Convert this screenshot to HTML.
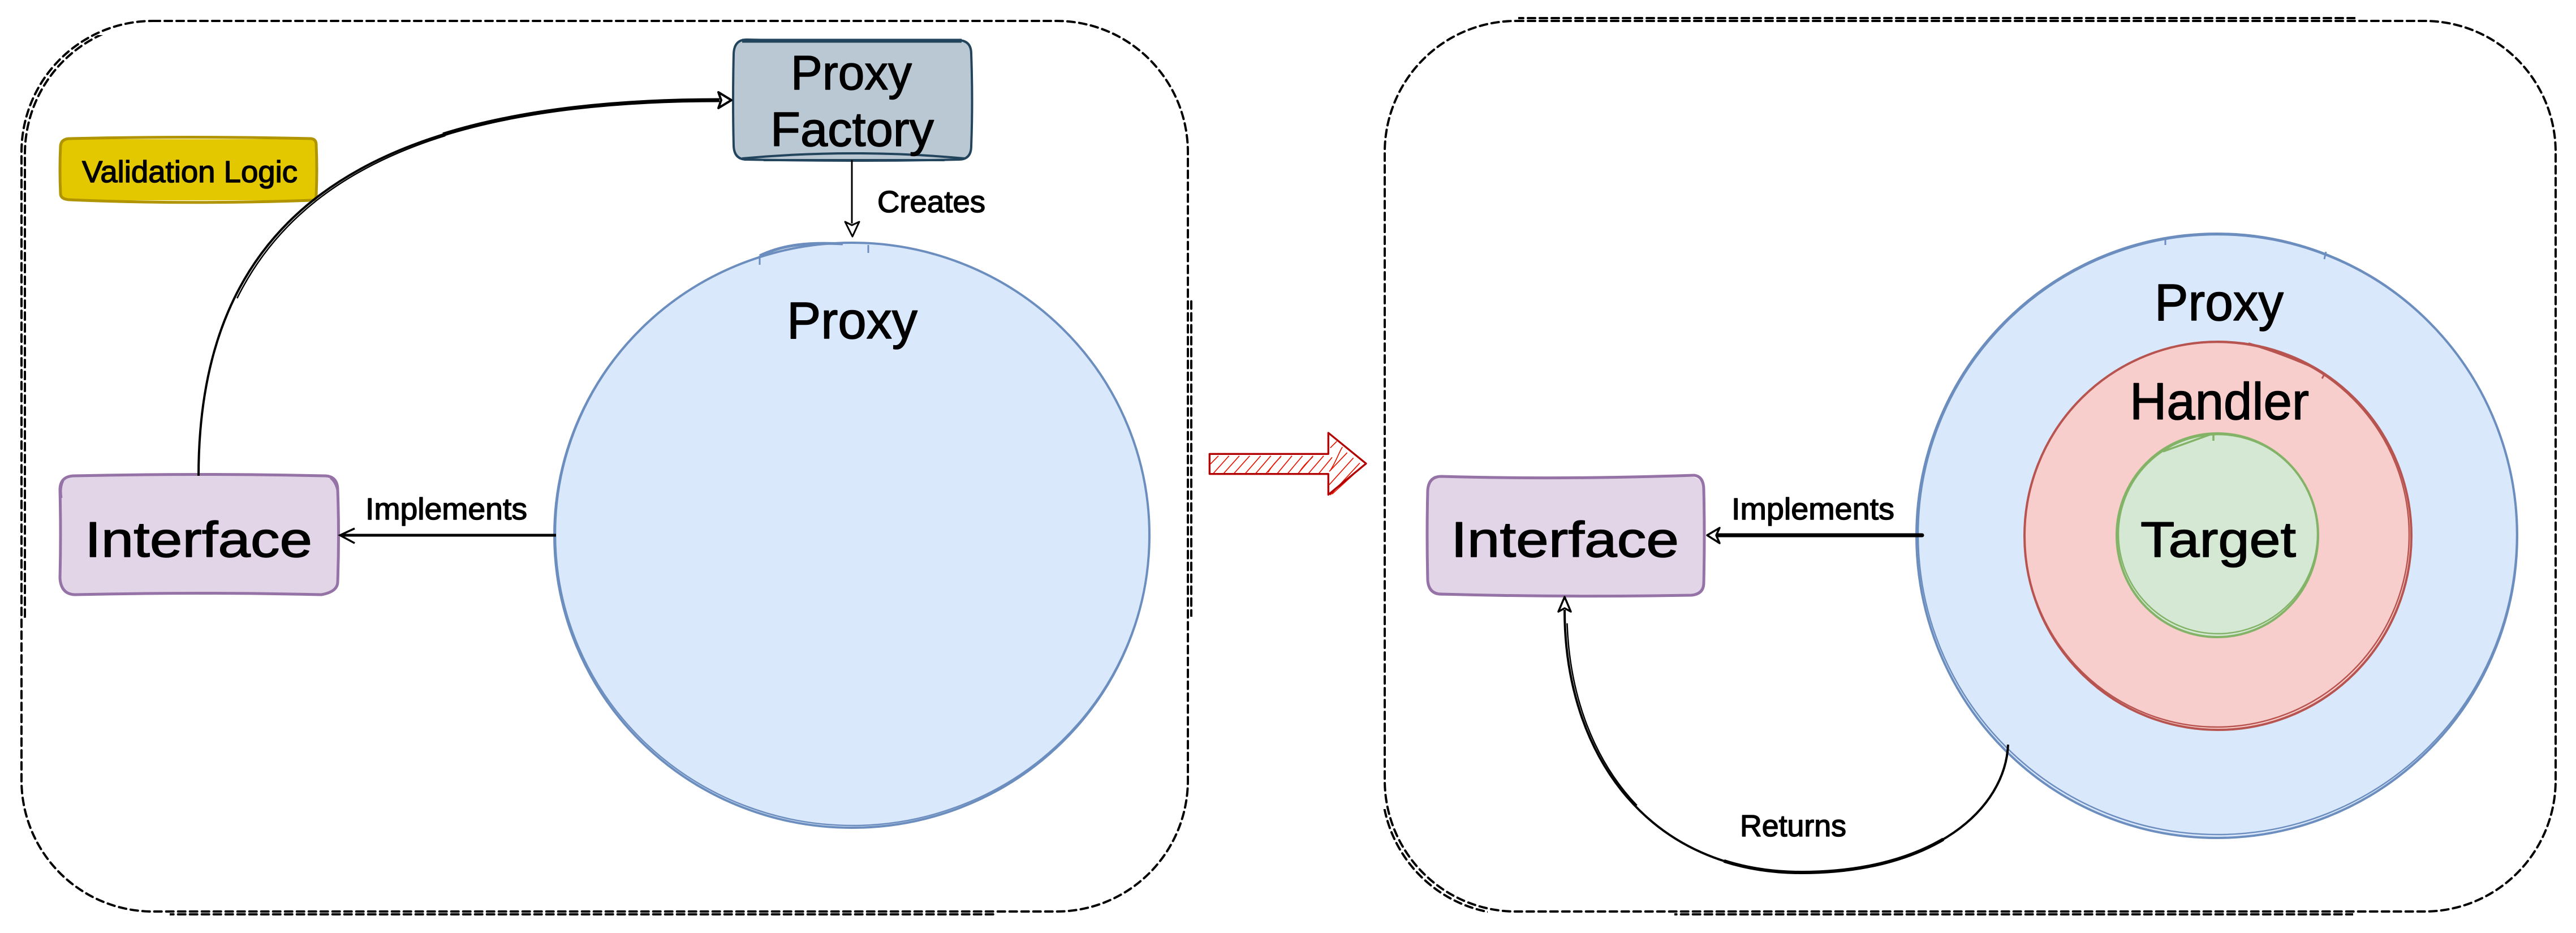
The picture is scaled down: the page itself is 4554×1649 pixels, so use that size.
<!DOCTYPE html>
<html>
<head>
<meta charset="utf-8">
<style>
html,body{margin:0;padding:0;background:#fff;width:4554px;height:1649px;overflow:hidden}
svg{display:block}
text{font-family:"Liberation Sans",sans-serif;fill:#000;stroke:#000;stroke-width:1.5;stroke-linejoin:round}
.d{fill:none;stroke:#000;stroke-width:4;stroke-dasharray:13 8;stroke-linecap:round}
</style>
</head>
<body>
<svg xmlns="http://www.w3.org/2000/svg" width="4554" height="1649" viewBox="0 0 4554 1649">
<defs>
<clipPath id="c1"><rect x="30" y="62" width="160" height="1030"/></clipPath>
<clipPath id="c2"><rect x="2085" y="530" width="40" height="560"/></clipPath>
<clipPath id="c3"><rect x="300" y="1600" width="1460" height="30"/></clipPath>
<clipPath id="c4"><rect x="2684" y="20" width="1480" height="30"/></clipPath>
<clipPath id="c5"><rect x="2960" y="1600" width="1200" height="30"/></clipPath>
<clipPath id="c6"><rect x="2440" y="1430" width="190" height="195"/></clipPath>
<path id="lc" d="M270 37H1868A232 232 0 0 1 2100 269V1379A232 232 0 0 1 1868 1611H270A232 232 0 0 1 38 1379V269A232 232 0 0 1 270 37Z"/>
<path id="rc" d="M2680 37H4286A232 232 0 0 1 4518 269V1379A232 232 0 0 1 4286 1611H2680A232 232 0 0 1 2448 1379V269A232 232 0 0 1 2680 37Z"/>
</defs>
<rect width="4554" height="1649" fill="#fff"/>

<!-- Left container -->
<use href="#lc" class="d"/>
<g clip-path="url(#c1)"><use href="#lc" class="d" transform="translate(6,3)"/></g>
<g clip-path="url(#c2)"><use href="#lc" class="d" transform="translate(6,0)"/></g>
<g clip-path="url(#c3)"><use href="#lc" class="d" transform="translate(0,5)"/></g>

<!-- Right container -->
<use href="#rc" class="d"/>
<g clip-path="url(#c4)"><use href="#rc" class="d" transform="translate(0,-5)"/></g>
<g clip-path="url(#c5)"><use href="#rc" class="d" transform="translate(0,5)"/></g>
<g clip-path="url(#c6)"><use href="#rc" class="d" transform="translate(-5,5)"/></g>

<!-- Proxy Factory -->
<rect x="1297" y="72" width="420" height="210" rx="22" ry="22" fill="#bac8d3"/>
<path d="M1320 70Q1510 74 1695 71Q1717 72 1717 95Q1720 180 1717 258Q1717 282 1695 282Q1510 286 1320 282Q1298 282 1297 258Q1295 180 1297 95Q1298 70 1320 70Z" fill="none" stroke="#23445d" stroke-width="4"/>
<path d="M1312 72H1700" stroke="#23445d" stroke-width="7" fill="none"/>
<path d="M1312 280Q1510 262 1705 280" stroke="#23445d" stroke-width="4" fill="none"/>
<path d="M1350 283H1670" stroke="#23445d" stroke-width="4" fill="none"/>
<text x="1398" y="158" font-size="85" textLength="214" lengthAdjust="spacingAndGlyphs">Proxy</text>
<text x="1362" y="258" font-size="85" textLength="289" lengthAdjust="spacingAndGlyphs">Factory</text>

<!-- Validation Logic -->
<rect x="107" y="246" width="452" height="108" rx="10" ry="10" fill="#e3c800"/>
<path d="M122 245Q330 240 550 245Q559 246 559 256Q561 300 559 345Q559 354 550 354Q330 362 122 353Q107 352 107 342Q105 300 107 258Q108 246 122 245Z" fill="none" stroke="#b09500" stroke-width="5"/>
<text x="145" y="322" font-size="54" textLength="381" lengthAdjust="spacingAndGlyphs">Validation Logic</text>

<!-- Interface left -->
<rect x="106" y="840" width="491" height="211" rx="24" ry="24" fill="#e1d5e7"/>
<path d="M130 841Q350 836 575 841Q597 842 597 866Q600 945 597 1028Q597 1046 568 1051Q350 1046 132 1051Q108 1050 106 1022Q108 945 106 866Q106 842 130 841Z" fill="none" stroke="#9673a6" stroke-width="5"/>
<path d="M112 850Q106 862 109 880M584 845Q596 855 597 875" fill="none" stroke="#9673a6" stroke-width="3"/>
<text x="150" y="984" font-size="88" textLength="402" lengthAdjust="spacingAndGlyphs">Interface</text>

<!-- Proxy left -->
<ellipse cx="1506" cy="946" rx="526" ry="517" fill="#dae8fc" stroke="#6c8ebf" stroke-width="4"/>
<ellipse cx="1507" cy="944" rx="525" ry="515" fill="none" stroke="#6c8ebf" stroke-width="2.5"/>
<path d="M1343 452C1385 432 1430 428 1490 431" fill="none" stroke="#6c8ebf" stroke-width="5"/>
<path d="M1343 452V468M1535 433V447" fill="none" stroke="#6c8ebf" stroke-width="3"/>
<text x="1391" y="598" font-size="92" textLength="231" lengthAdjust="spacingAndGlyphs">Proxy</text>

<!-- Connector: Interface to Proxy Factory -->
<path d="M351 841C351 400 620 177 1272 177" fill="none" stroke="#000" stroke-width="4"/>
<path d="M351 841C351 400 620 177 1272 177" fill="none" stroke="#000" stroke-width="7" pathLength="100" stroke-dasharray="0 62 38 100"/>
<path d="M351 841C351 400 620 177 1272 177" fill="none" stroke="#000" stroke-width="2.5" pathLength="100" stroke-dasharray="0 25 37 100" transform="translate(4,2)"/>
<path d="M1270 163L1293 177L1270 191L1275 177Z" fill="#fff" stroke="#000" stroke-width="4" stroke-linejoin="round"/>

<!-- Creates -->
<path d="M1506 283V395" fill="none" stroke="#000" stroke-width="3"/>
<path d="M1494 392L1507 418L1519 392L1506 398Z" fill="#fff" stroke="#000" stroke-width="3" stroke-linejoin="round"/>
<text x="1551" y="375" font-size="54" textLength="191" lengthAdjust="spacingAndGlyphs">Creates</text>

<!-- Implements left -->
<path d="M983 946H602" fill="none" stroke="#000" stroke-width="5"/>
<path d="M627 934L601 946L627 960" fill="none" stroke="#000" stroke-width="3.5"/>
<text x="646" y="918" font-size="54" textLength="286" lengthAdjust="spacingAndGlyphs">Implements</text>

<!-- Block arrow -->
<g transform="translate(2080,740) scale(0.3333)">
<polygon points="175,187 805,187 805,75 1005,238 805,403 805,293 175,293" fill="#fff"/>
<g stroke="#e51400" stroke-width="5" fill="none">
<path d="M180 240L222 197M195 290L278 197M250 290L333 197M305 290L388 197M365 290L446 197M420 290L500 197M475 290L555 197M535 290L612 197M590 290L668 197M645 290L724 197M700 290L780 197M755 290L825 205"/>
<path d="M485 285C510 245 530 225 552 203M650 285C675 245 700 225 722 203"/>
<path d="M815 155L850 120M810 280L905 180M810 350L938 208M815 405L972 235M825 400L1000 240"/>
<path d="M815 275C850 220 860 180 880 150"/>
</g>
<polygon points="175,187 805,187 805,75 1005,238 805,403 805,293 175,293" fill="none" stroke="#b20000" stroke-width="10" stroke-linejoin="round"/>
</g>

<!-- Interface right -->
<rect x="2524" y="843" width="488" height="210" rx="22" ry="22" fill="#e1d5e7"/>
<path d="M2548 842Q2760 848 2995 840Q3012 842 3012 866Q3014 945 3012 1030Q3012 1050 2990 1052Q2760 1056 2548 1050Q2526 1050 2524 1026Q2522 945 2524 866Q2526 842 2548 842Z" fill="none" stroke="#9673a6" stroke-width="5"/>
<text x="2565" y="984" font-size="88" textLength="403" lengthAdjust="spacingAndGlyphs">Interface</text>

<!-- Proxy right -->
<ellipse cx="3919" cy="947" rx="531" ry="534" fill="#dae8fc" stroke="#6c8ebf" stroke-width="4"/>
<ellipse cx="3920" cy="945" rx="529" ry="530" fill="none" stroke="#6c8ebf" stroke-width="2.5"/>
<path d="M3828 420V433M4112 445L4109 458" fill="none" stroke="#6c8ebf" stroke-width="3"/>
<text x="3809" y="566" font-size="92" textLength="228" lengthAdjust="spacingAndGlyphs">Proxy</text>

<!-- Handler -->
<ellipse cx="3921" cy="947" rx="342" ry="343" fill="#f8cecc" stroke="#b85450" stroke-width="4"/>
<ellipse cx="3919" cy="945" rx="340" ry="340" fill="none" stroke="#b85450" stroke-width="2.5"/>
<path d="M3975 607C4020 620 4070 640 4095 652" fill="none" stroke="#b85450" stroke-width="4"/>
<path d="M4110 660L4105 669" fill="none" stroke="#b85450" stroke-width="3"/>
<text x="3765" y="741" font-size="92" textLength="317" lengthAdjust="spacingAndGlyphs">Handler</text>

<!-- Target -->
<ellipse cx="3920" cy="946" rx="178" ry="180" fill="#d5e8d4" stroke="#82b366" stroke-width="4"/>
<ellipse cx="3921" cy="944" rx="176" ry="176" fill="none" stroke="#82b366" stroke-width="2.5"/>
<path d="M3824 798Q3880 778 3913 766M3913 766V779" fill="none" stroke="#82b366" stroke-width="3.5"/>
<text x="3784" y="984" font-size="88" textLength="275" lengthAdjust="spacingAndGlyphs">Target</text>

<!-- Implements right -->
<path d="M3398 946H3032" fill="none" stroke="#000" stroke-width="7" stroke-linecap="round"/>
<path d="M3040 933L3018 946L3040 960L3034 946Z" fill="#fff" stroke="#000" stroke-width="3.5" stroke-linejoin="round"/>
<text x="3061" y="918" font-size="54" textLength="288" lengthAdjust="spacingAndGlyphs">Implements</text>

<!-- Returns -->
<path d="M3550 1316C3545 1430 3420 1542 3184 1542C2920 1542 2766 1340 2766 1078" fill="none" stroke="#000" stroke-width="4"/>
<path d="M3550 1316C3545 1430 3420 1542 3184 1542C2920 1542 2766 1340 2766 1078" fill="none" stroke="#000" stroke-width="6" pathLength="100" stroke-dasharray="0 18 34 100"/>
<path d="M3550 1316C3545 1430 3420 1542 3184 1542C2920 1542 2766 1340 2766 1078" fill="none" stroke="#000" stroke-width="2.5" pathLength="100" stroke-dasharray="0 68 30 100" transform="translate(4,0)"/>
<path d="M2755 1081L2766 1055L2777 1081L2766 1075Z" fill="#fff" stroke="#000" stroke-width="3.5" stroke-linejoin="round"/>
<text x="3076" y="1478" font-size="54" textLength="188" lengthAdjust="spacingAndGlyphs">Returns</text>
</svg>
</body>
</html>
